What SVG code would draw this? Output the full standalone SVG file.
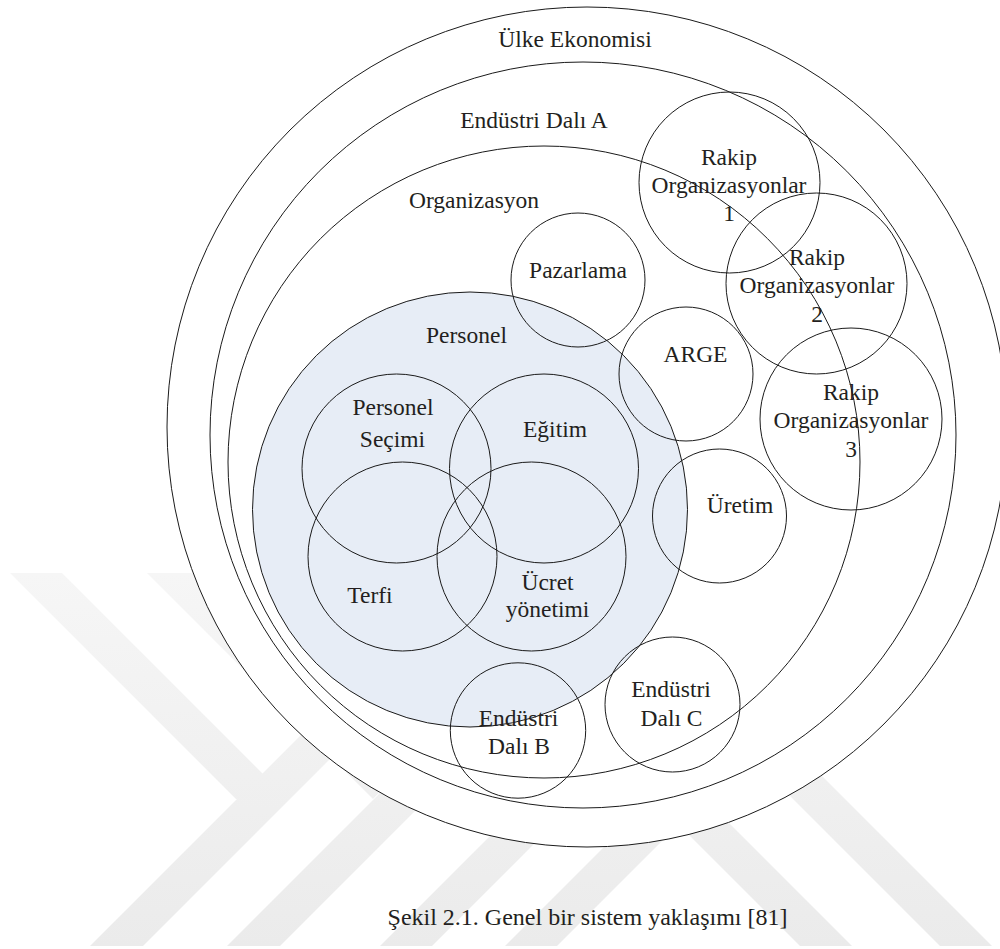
<svg xmlns="http://www.w3.org/2000/svg" width="1000" height="949" viewBox="0 0 1000 949">
  <defs>
    <linearGradient id="wm" x1="0" y1="573" x2="0" y2="946" gradientUnits="userSpaceOnUse">
      <stop offset="0" stop-color="#f6f6f6"/>
      <stop offset="1" stop-color="#ebebeb"/>
    </linearGradient>
  </defs>
  <style>
    .ring { fill: none; stroke: #1a1a1a; stroke-width: 1; }
    .disk { fill: #ffffff; stroke: #1a1a1a; stroke-width: 1; }
    .staff { fill: #e7edf6; stroke: #1a1a1a; stroke-width: 1; }
    text { font-family: 'Liberation Serif', 'Times New Roman', Times, 'DejaVu Serif', serif; fill: #231f20; text-anchor: middle; }
    .lbl { font-size: 23.5px; }
    .cap { font-size: 24px; }
    .band { fill: url(#wm); }
  </style>

  <!-- background stripe pattern -->
  <g id="watermark">
    <polygon class="band" points="10,573 62,573 288,799 236,799"/>
    <polygon class="band" points="90,946 143,946 543,546 490,546"/>
    <polygon class="band" points="147,573 200,573 399,772 373,799"/>
    <polygon class="band" points="227,946 280,946 680,546 627,546"/>
    <polygon class="band" points="380,946 432,946 732,646 680,646"/>
    <polygon class="band" points="505,946 557,946 857,646 805,646"/>
    <polygon class="band" points="800,946 852,946 552,646 500,646"/>
    <polygon class="band" points="940,946 992,946 692,646 640,646"/>
  </g>

  <!-- nested system boundaries -->
  <g id="ulke-ekonomisi">
    <circle class="disk" cx="587" cy="427" r="420"/>
    <text class="lbl" x="575" y="47">Ülke Ekonomisi</text>
  </g>
  <g id="endustri-dali-a">
    <circle class="ring" cx="583" cy="435" r="373"/>
    <text class="lbl" x="534" y="128">Endüstri Dalı A</text>
  </g>
  <g id="organizasyon">
    <circle class="ring" cx="544" cy="462" r="316"/>
    <text class="lbl" x="474" y="208">Organizasyon</text>
  </g>
  <g id="personel">
    <circle class="staff" cx="470" cy="509.5" r="217.5"/>
    <text class="lbl" x="466.5" y="343">Personel</text>
  </g>

  <!-- departments -->
  <g id="pazarlama">
    <circle class="ring" cx="578" cy="280" r="67"/>
    <text class="lbl" x="578" y="278">Pazarlama</text>
  </g>
  <g id="arge">
    <circle class="ring" cx="686" cy="374" r="67"/>
    <text class="lbl" x="695.5" y="362">ARGE</text>
  </g>
  <g id="uretim">
    <circle class="ring" cx="719.5" cy="516" r="67"/>
    <text class="lbl" x="740" y="513">Üretim</text>
  </g>

  <!-- competitors -->
  <g id="rakip-1">
    <circle class="ring" cx="729.5" cy="182.5" r="90.5"/>
    <text class="lbl" x="729" y="165">Rakip</text>
    <text class="lbl" x="729" y="193">Organizasyonlar</text>
    <text class="lbl" x="729" y="221">1</text>
  </g>
  <g id="rakip-2">
    <circle class="ring" cx="816.5" cy="283.5" r="90.5"/>
    <text class="lbl" x="817" y="265">Rakip</text>
    <text class="lbl" x="817" y="293">Organizasyonlar</text>
    <text class="lbl" x="817" y="322">2</text>
  </g>
  <g id="rakip-3">
    <circle class="ring" cx="851" cy="419" r="91"/>
    <text class="lbl" x="851" y="400">Rakip</text>
    <text class="lbl" x="851" y="428">Organizasyonlar</text>
    <text class="lbl" x="851" y="457">3</text>
  </g>

  <!-- personnel functions -->
  <g id="personel-secimi">
    <circle class="ring" cx="396.5" cy="468.5" r="94.5"/>
    <text class="lbl" x="393" y="415">Personel</text>
    <text class="lbl" x="392.5" y="447">Seçimi</text>
  </g>
  <g id="egitim">
    <circle class="ring" cx="544" cy="468.5" r="94.5"/>
    <text class="lbl" x="555" y="437">Eğitim</text>
  </g>
  <g id="terfi">
    <circle class="ring" cx="402.5" cy="556.5" r="94.5"/>
    <text class="lbl" x="370" y="603">Terfi</text>
  </g>
  <g id="ucret-yonetimi">
    <circle class="ring" cx="531.5" cy="556.5" r="94.5"/>
    <text class="lbl" x="547.5" y="590">Ücret</text>
    <text class="lbl" x="547.5" y="617">yönetimi</text>
  </g>

  <!-- other industries -->
  <g id="endustri-dali-b">
    <circle class="ring" cx="518" cy="730.5" r="67.7"/>
    <text class="lbl" x="518.5" y="726">Endüstri</text>
    <text class="lbl" x="519" y="754">Dalı B</text>
  </g>
  <g id="endustri-dali-c">
    <circle class="ring" cx="672.5" cy="704.5" r="67.5"/>
    <text class="lbl" x="671" y="697">Endüstri</text>
    <text class="lbl" x="671.5" y="726">Dalı C</text>
  </g>

  <g id="connectors"></g>

  <text id="caption" class="cap" x="587.5" y="925">Şekil 2.1. Genel bir sistem yaklaşımı [81]</text>
</svg>
